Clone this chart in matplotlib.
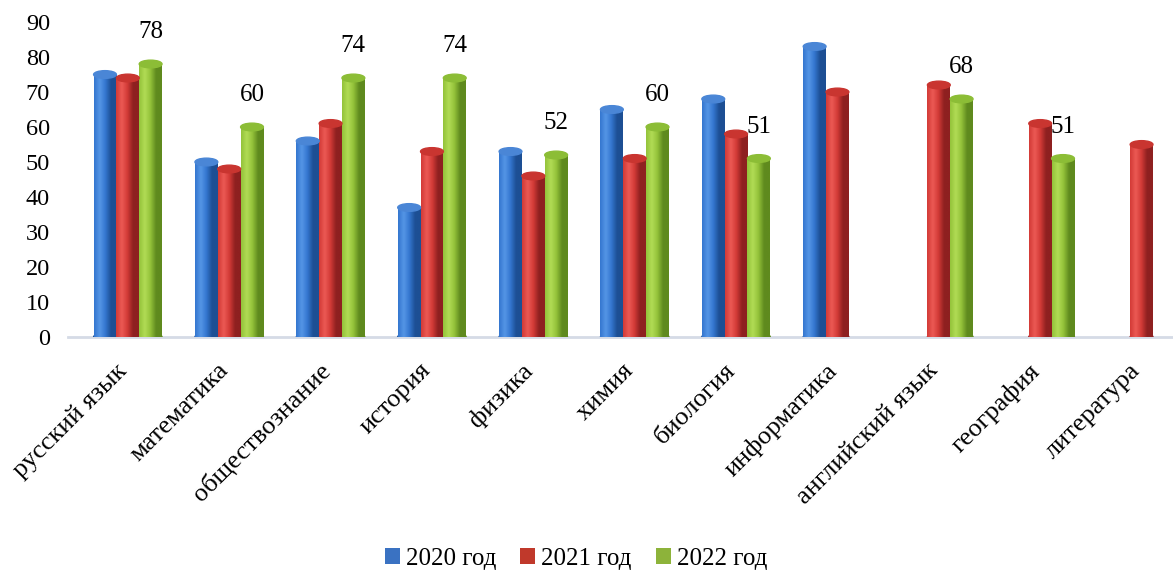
import numpy as np
import matplotlib.pyplot as plt
from matplotlib.colors import LinearSegmentedColormap
from matplotlib.patches import Ellipse, Patch

nan = np.nan

subjects = ['русский язык', 'математика', 'обществознание', 'история', 'физика',
            'химия', 'биология', 'информатика', 'английский язык', 'география',
            'литература']
y2020 = [75, 50, 56, 37, 53, 65, 68, 83, nan, nan, nan]
y2021 = [74, 48, 61, 53, 46, 51, 58, 70, 72, 61, 55]
y2022 = [78, 60, 74, 74, 52, 60, 51, nan, 68, 51, nan]
series_names = ['2020 год', '2021 год', '2022 год']

# (edge dark, mid, highlight, cap colour, legend colour)
palettes = [
    ('#1d4f94', '#3476cf', '#5596e6', '#4a86d6', '#3a72c2'),
    ('#8e2020', '#d23a36', '#ec5a55', '#c93530', '#c0392b'),
    ('#5f8a1e', '#93c23a', '#b2dc55', '#8cbd36', '#8db33a'),
]

plt.rcParams['font.family'] = ['Liberation Serif', 'DejaVu Serif']

fig = plt.figure(figsize=(11.73, 5.72), dpi=100)
ax = fig.add_axes([68 / 1173, 1 - 337 / 572, 1 - 68 / 1173, (337 - 22) / 572])

w = 0.225
x = np.arange(len(subjects))
grad = np.linspace(0, 1, 64).reshape(1, -1)

for k, vals in enumerate([y2020, y2021, y2022]):
    dark, mid, light, cap, leg = palettes[k]
    cmap = LinearSegmentedColormap.from_list(f'c{k}', [mid, light, mid, dark, dark])
    offs = (k - 1) * w
    bars = ax.bar(x + offs, np.nan_to_num(vals), width=w, color=mid, linewidth=0, zorder=2)
    for xi, v, b in zip(x, vals, bars):
        if np.isnan(v):
            b.set_visible(False)
            continue
        x0 = xi + offs - w / 2
        im = ax.imshow(grad, cmap=cmap, aspect='auto', extent=(x0, x0 + w, 0, v),
                       zorder=3, interpolation='bicubic')
        im.set_clip_path(b)
        b.set_alpha(0)
        ax.add_patch(Ellipse((xi + offs, 0), w, 2.2, color=dark, zorder=2.5))
        ax.add_patch(Ellipse((xi + offs, v), w, 2.2, color=cap, zorder=4))

# data labels for 2022
for xi, v in zip(x, y2022):
    if not np.isnan(v):
        ax.annotate(f'{v:.0f}', (xi + w, v), xytext=(0, 23), textcoords='offset points',
                    ha='center', va='center', fontsize=18)

ax.set_xlim(-0.59, 10.31)
ax.set_ylim(0, 90)
ax.set_yticks(range(0, 91, 10))
# tick marks are hidden; nudge them left so the slanted labels end under the group
ax.set_xticks(x - 0.12)
ax.set_xticklabels(subjects, rotation=45, ha='right', va='top', rotation_mode='anchor',
                   fontsize=19)
ax.tick_params(axis='y', length=0, pad=13, labelsize=17.5)
ax.tick_params(axis='x', length=0, pad=16)
for s in ['top', 'right', 'left']:
    ax.spines[s].set_visible(False)
ax.spines['bottom'].set_color('#d5dbe6')
ax.spines['bottom'].set_linewidth(2)
ax.spines['bottom'].set_zorder(1)

handles = [Patch(facecolor=p[4], label=n) for p, n in zip(palettes, series_names)]
fig.legend(handles=handles, loc='lower center', bbox_to_anchor=(0.491, -0.035), ncol=3,
           frameon=False, fontsize=18, handlelength=0.6, handleheight=0.6,
           handletextpad=0.25, columnspacing=0.95)

fig.savefig('out.png', dpi=100)
